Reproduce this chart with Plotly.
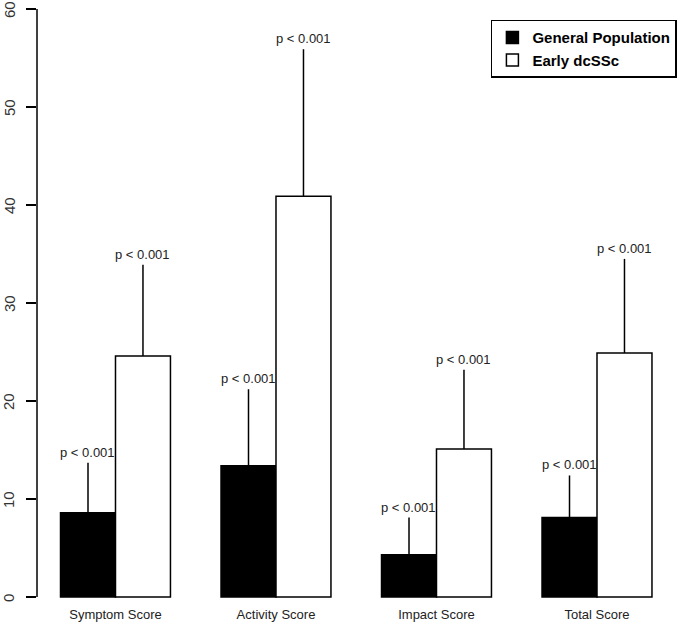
import plotly.graph_objects as go

categories = ["Symptom Score", "Activity Score", "Impact Score", "Total Score"]
general_mean = [8.6, 13.4, 4.3, 8.1]
general_upper = [13.7, 21.2, 8.1, 12.4]
early_mean = [24.6, 40.9, 15.1, 24.9]
early_upper = [33.9, 55.9, 23.2, 34.5]
p_general = ["p < 0.001"] * 4
p_early = ["p < 0.001"] * 4
y_ticks = [0, 10, 20, 30, 40, 50, 60]

FONT = "Liberation Sans, Arial, sans-serif"

fig = go.Figure()
fig.add_trace(go.Bar(
    name="General Population", x=categories, y=general_mean,
    marker=dict(color="black", line=dict(color="black", width=1.5)),
    error_y=dict(type="data", symmetric=False,
                 array=[u - m for u, m in zip(general_upper, general_mean)],
                 arrayminus=[0] * 4, width=0, thickness=1.5, color="black"),
))
fig.add_trace(go.Bar(
    name="Early dcSSc", x=categories, y=early_mean,
    marker=dict(color="white", line=dict(color="black", width=1.5)),
    error_y=dict(type="data", symmetric=False,
                 array=[u - m for u, m in zip(early_upper, early_mean)],
                 arrayminus=[0] * 4, width=0, thickness=1.5, color="black"),
))

annotations = []
for i, c in enumerate(categories):
    annotations.append(dict(x=i, xref="x", xshift=-27.5, y=general_upper[i], yref="y",
                            text=p_general[i], showarrow=False, yanchor="bottom", yshift=1,
                            font=dict(family=FONT, size=13, color="#222")))
    annotations.append(dict(x=i, xref="x", xshift=27.5, y=early_upper[i], yref="y",
                            text=p_early[i], showarrow=False, yanchor="bottom", yshift=1,
                            font=dict(family=FONT, size=13, color="#222")))
# y tick labels (rotated, as in base R graphics)
for v in y_ticks:
    annotations.append(dict(x=0, xref="paper", xshift=-28, y=v, yref="y", yshift=-1,
                            text=str(v), showarrow=False, textangle=-90,
                            xanchor="center", yanchor="middle", borderpad=0,
                            font=dict(family=FONT, size=15, color="#333")))

fig.update_layout(
    width=680, height=636,
    margin=dict(l=37, r=5, t=6, b=31, autoexpand=False),
    paper_bgcolor="white", plot_bgcolor="white",
    barmode="group", bargap=0.315, bargroupgap=0,
    font=dict(family=FONT, size=12, color="#222"),
    showlegend=True,
    legend=dict(x=1.003, xanchor="right", y=0.977, yanchor="top",
                bordercolor="black", borderwidth=1.5, bgcolor="white",
                font=dict(family=FONT, size=15, color="black", weight="bold"),
                tracegroupgap=0, itemwidth=30),
    annotations=annotations,
    shapes=[dict(type="line", xref="paper", x0=0, x1=0, yref="y", y0=0, y1=60,
                 line=dict(color="black", width=1.5))],
)
fig.update_xaxes(type="category", range=[-0.489, 3.486], showline=False, ticks="",
                 showgrid=False, zeroline=False, automargin=False,
                 tickfont=dict(family=FONT, size=13, color="#222"))
fig.update_yaxes(range=[-0.82, 60.31], tickvals=y_ticks, showticklabels=False,
                 ticks="outside", ticklen=10, tickwidth=1.5, tickcolor="black",
                 showline=False, showgrid=False, zeroline=False,
                 automargin=False)

fig.write_html("out.html", config={"displayModeBar": False},
               post_script="document.body.style.margin='0';document.body.style.padding='0';")
